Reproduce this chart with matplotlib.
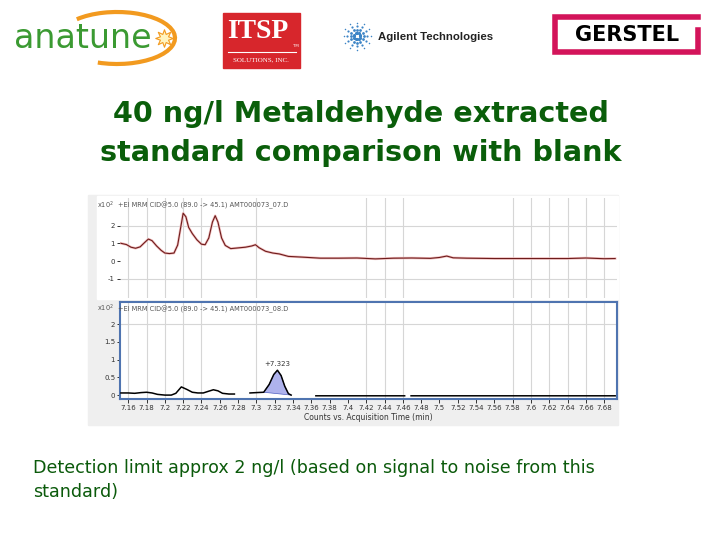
import numpy as np
import matplotlib
matplotlib.use("Agg")
import matplotlib.pyplot as plt
from matplotlib.patches import Rectangle, Arc
from matplotlib.ticker import FuncFormatter

# slide text
title_lines = ["40 ng/l Metaldehyde extracted", "standard comparison with blank"]
caption_lines = ["Detection limit approx 2 ng/l (based on signal to noise from this",
                 "standard)"]
header_top = "+EI MRM CID@5.0 (89.0 -> 45.1) AMT000073_07.D"
header_bot = "+EI MRM CID@5.0 (89.0 -> 45.1) AMT000073_08.D"
xlabel = "Counts vs. Acquisition Time (min)"
peak_label = "+7.323"

# top trace (blank), counts x10^2
t_top = [7.152, 7.158, 7.163, 7.168, 7.173, 7.178, 7.182, 7.186, 7.191, 7.196,
         7.200, 7.205, 7.210, 7.214, 7.217, 7.220, 7.223, 7.226, 7.230, 7.235,
         7.240, 7.244, 7.248, 7.252, 7.255, 7.258, 7.262, 7.266, 7.272, 7.280,
         7.288, 7.295, 7.299, 7.303, 7.310, 7.318, 7.325, 7.335, 7.350, 7.370,
         7.390, 7.410, 7.430, 7.450, 7.470, 7.490, 7.500, 7.508, 7.515, 7.530,
         7.560, 7.600, 7.640, 7.660, 7.680, 7.692]
y_top = [1.00, 0.93, 0.78, 0.72, 0.80, 1.05, 1.24, 1.15, 0.85, 0.60,
         0.45, 0.42, 0.45, 0.90, 1.80, 2.70, 2.50, 1.90, 1.55, 1.20,
         0.95, 0.92, 1.30, 2.20, 2.56, 2.20, 1.30, 0.88, 0.70, 0.74,
         0.78, 0.85, 0.92, 0.75, 0.55, 0.45, 0.40, 0.26, 0.22, 0.16,
         0.16, 0.17, 0.12, 0.16, 0.17, 0.15, 0.20, 0.28, 0.18, 0.16,
         0.14, 0.14, 0.14, 0.17, 0.13, 0.14]

# bottom trace (40 ng/l standard), nan = gap in trace
t_bot = [7.152, 7.160, 7.167, 7.174, 7.180, 7.186, 7.192, 7.200, 7.207, 7.212,
         7.218, 7.224, 7.230, 7.236, 7.242, 7.248, 7.253, 7.258, 7.263, 7.270,
         7.276, 7.284, 7.293, 7.300, 7.308, 7.314, 7.319, 7.323, 7.327, 7.331,
         7.335, 7.338, 7.350, 7.365, 7.462, 7.465, 7.469, 7.692]
y_bot = [0.06, 0.06, 0.05, 0.07, 0.08, 0.06, 0.02, 0.00, 0.00, 0.05,
         0.23, 0.16, 0.08, 0.06, 0.06, 0.11, 0.15, 0.12, 0.05, 0.03,
         0.03, np.nan, 0.06, 0.07, 0.08, 0.30, 0.58, 0.70, 0.55, 0.25,
         0.04, 0.00, np.nan, -0.02, -0.02, np.nan, -0.02, -0.02]

# integrated peak
t_peak = [7.308, 7.314, 7.319, 7.323, 7.327, 7.331, 7.335, 7.338]
y_peak = [0.08, 0.30, 0.58, 0.70, 0.55, 0.25, 0.04, 0.00]

x_ticks = [7.16, 7.18, 7.20, 7.22, 7.24, 7.26, 7.28, 7.30, 7.32, 7.34, 7.36,
           7.38, 7.40, 7.42, 7.44, 7.46, 7.48, 7.50, 7.52, 7.54, 7.56, 7.58,
           7.60, 7.62, 7.64, 7.66, 7.68]
grid_times = [7.16, 7.18, 7.20, 7.22, 7.24, 7.30, 7.42, 7.44, 7.46, 7.58,
              7.60, 7.62, 7.64, 7.66, 7.68]
y_ticks_top = [-1, 0, 1, 2]
y_ticks_bot = [0, 0.5, 1, 1.5, 2]

W, H = 720, 540


def px_rect(x0, y0, x1, y1):
    return [x0 / W, 1 - y1 / H, (x1 - x0) / W, (y1 - y0) / H]


fig = plt.figure(figsize=(7.2, 5.4), dpi=100)
bg = fig.add_axes([0, 0, 1, 1])
bg.set_xlim(0, W)
bg.set_ylim(H, 0)
bg.axis("off")

# --- logos ---
bg.text(14, 39, "anatune", fontsize=24, color="#3b9a32", va="center", ha="left",
        family="DejaVu Sans")
bg.add_patch(Arc((117, 38), 116, 52, theta1=205, theta2=128, color="#f29a1f", lw=3))
bg.scatter([164], [38], marker=(8, 1, 0), s=160, color="#fff4c0",
           edgecolor="#f29a1f", linewidth=0.8, zorder=3)

bg.add_patch(Rectangle((223, 13), 77, 55, color="#d7262c"))
bg.text(258, 32, "ITSP", fontsize=20, color="white", weight="bold",
        family="Liberation Serif", ha="center", va="center")
bg.plot([228, 296], [51.5, 51.5], color="white", lw=0.8)
bg.text(296, 46, "TM", fontsize=2.8, color="white", ha="center", va="center")
bg.text(261, 59.5, "SOLUTIONS, INC.", fontsize=5, color="white",
        family="Liberation Serif", ha="center", va="center")

for ang in np.arange(0, 360, 30):
    for r, s in zip([3, 6.5, 10, 13.5], [5, 4, 2.5, 1.2]):
        bg.scatter(357 + r * np.cos(np.radians(ang)), 36 + r * np.sin(np.radians(ang)),
                   s=s, color="#3d85c6", lw=0)
bg.text(378, 37, "Agilent Technologies", fontsize=8.2, weight="bold", color="#222222",
        family="Liberation Sans", ha="left", va="center")

bg.plot([698, 555, 555, 698, 698], [17, 17, 52, 52, 30], color="#d3145a", lw=4,
        solid_joinstyle="miter")
bg.text(627, 35, "GERSTEL", fontsize=15, weight="bold", color="black",
        ha="center", va="center")

# --- title and caption ---
for i, line in enumerate(title_lines):
    bg.text(361, 114 + i * 39, line, fontsize=20.6, weight="bold", color="#0a5e0a",
            ha="center", va="center")
for i, line in enumerate(caption_lines):
    bg.text(33, 468 + i * 24, line, fontsize=12.6, color="#0b5a0b",
            ha="left", va="center")

# --- chart panel ---
bg.add_patch(Rectangle((88, 195), 530, 230, color="#efefef"))
bg.add_patch(Rectangle((97, 196), 521, 103, color="white"))

fmt = FuncFormatter(lambda v, p: f"{v:g}")

ax1 = fig.add_axes(px_rect(120, 198, 617, 298))
ax1.set_facecolor("white")
ax1.plot(t_top, y_top, color="#f2c0c0", lw=1.8)
ax1.plot(t_top, y_top, color="#6e1c1c", lw=0.8)
ax1.set_xlim(7.151, 7.694)
ax1.set_ylim(-2.09, 3.56)
ax1.set_xticks(x_ticks)
ax1.set_yticks(y_ticks_top)
ax1.yaxis.set_major_formatter(fmt)
ax1.tick_params(axis="x", length=0, labelbottom=False)
ax1.tick_params(axis="y", length=2.5, width=0.7, labelsize=5, colors="#333333", pad=1)
for s in ax1.spines.values():
    s.set_visible(False)
for g in grid_times:
    ax1.axvline(g, color="#d6d6d6", lw=0.8, zorder=0)
for g in [2, -1]:
    ax1.axhline(g, color="#d6d6d6", lw=0.8, zorder=0)
ax1.text(-0.004, 0.93, header_top, transform=ax1.transAxes, fontsize=4.8,
         color="#555555", ha="left", va="center")
ax1.text(-0.012, 0.93, "x10$^2$", transform=ax1.transAxes, fontsize=4.8,
         color="#555555", ha="right", va="center")

ax2 = fig.add_axes(px_rect(120, 302, 617, 399))
ax2.set_facecolor("white")
ax2.fill(t_peak, y_peak, color="#aeb2ec", edgecolor="#5060c0", lw=0.5, zorder=2)
ax2.plot(t_bot, y_bot, color="black", lw=1.1, zorder=3)
ax2.text(7.323, 0.8, peak_label, fontsize=5, color="#333333", ha="center", va="bottom")
ax2.set_xlim(7.151, 7.694)
ax2.set_ylim(-0.11, 2.62)
ax2.set_xticks(x_ticks)
ax2.set_yticks(y_ticks_bot)
ax2.xaxis.set_major_formatter(fmt)
ax2.yaxis.set_major_formatter(fmt)
ax2.tick_params(axis="x", length=3, width=0.7, labelsize=5, colors="#333333", pad=1.5)
ax2.tick_params(axis="y", length=2.5, width=0.7, labelsize=5, colors="#333333", pad=1)
for s in ax2.spines.values():
    s.set_color("#4f74b0")
    s.set_linewidth(1.5)
for g in grid_times:
    ax2.axvline(g, color="#d6d6d6", lw=0.8, zorder=0)
ax2.axhline(2, color="#d6d6d6", lw=0.8, zorder=0)
ax2.text(-0.004, 0.93, header_bot, transform=ax2.transAxes, fontsize=4.8,
         color="#555555", ha="left", va="center")
ax2.text(-0.012, 0.93, "x10$^2$", transform=ax2.transAxes, fontsize=4.8,
         color="#555555", ha="right", va="center")
ax2.set_xlabel(xlabel, fontsize=5.5, color="#333333", labelpad=1.5)

fig.savefig("out.png", dpi=100)
